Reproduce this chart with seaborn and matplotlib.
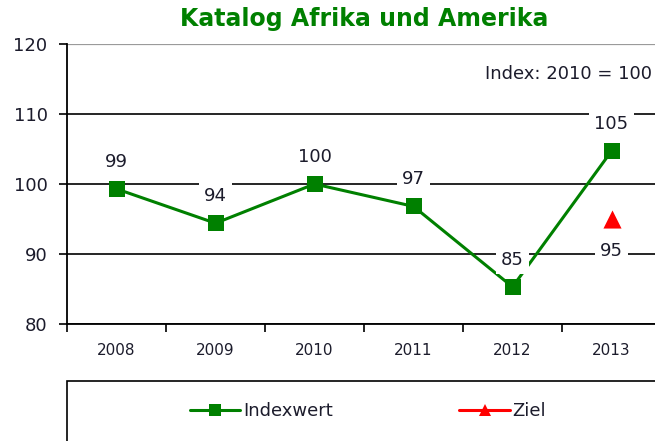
import matplotlib
matplotlib.use("Agg")
import matplotlib.pyplot as plt
import seaborn as sns
import pandas as pd
from matplotlib.lines import Line2D
from matplotlib.patches import Rectangle

# --- data -------------------------------------------------------------
years = ["2008", "2009", "2010", "2011", "2012", "2013"]
index_values = [99.3, 94.4, 100.0, 96.8, 85.3, 104.7]
target_years = ["2013"]
target_values = [95.0]
y_ticks = [80, 90, 100, 110, 120]

title = "Katalog Afrika und Amerika"
note = "Index: 2010 = 100"
series_names = ["Indexwert", "Ziel"]

GREEN = "#008000"
RED = "#ff0000"
TEXT = "#1c1c2c"

# --- figure -----------------------------------------------------------
sns.set_theme(style="white")
plt.rcParams["font.family"] = ["DejaVu Sans"]

fig = plt.figure(figsize=(6.55, 4.41), dpi=100)
ax = fig.add_axes([67 / 655, 1 - 324 / 441, 594 / 655, 280 / 441])

df = pd.DataFrame({"pos": range(len(years)), "Indexwert": index_values})
sns.lineplot(data=df, x="pos", y="Indexwert", ax=ax, color=GREEN,
             linewidth=2.2, marker="s", markersize=11.5,
             markeredgewidth=0, zorder=3)

tdf = pd.DataFrame({"pos": [years.index(y) for y in target_years],
                    "Ziel": target_values})
sns.scatterplot(data=tdf, x="pos", y="Ziel", ax=ax, marker="^", s=170,
                color=RED, linewidth=0, zorder=3)

# value labels on white boxes
box = dict(boxstyle="square,pad=0.3", fc="white", ec="none")
for i, v in enumerate(index_values):
    ax.annotate(f"{v:.0f}", (i, v), xytext=(0, 19.5),
                textcoords="offset points", ha="center", va="center",
                fontsize=13, color=TEXT, bbox=box, zorder=4)
for yr, v in zip(target_years, target_values):
    ax.annotate(f"{v:.0f}", (years.index(yr), v), xytext=(0, -23),
                textcoords="offset points", ha="center", va="center",
                fontsize=13, color=TEXT, bbox=box, zorder=4)

# axes
ax.set_xlim(-0.5, len(years) - 0.5)
ax.set_ylim(y_ticks[0], y_ticks[-1])
ax.set_yticks(y_ticks)
ax.set_yticklabels([str(t) for t in y_ticks])
ax.set_xticks([i - 0.5 for i in range(len(years) + 1)])
ax.set_xticklabels([])
ax.set_xticks(range(len(years)), minor=True)
ax.set_xticklabels(years, minor=True)
ax.set_xlabel("")
ax.set_ylabel("")

ax.tick_params(axis="x", which="major", direction="out", length=6,
               width=1.2, color="black", bottom=True)
ax.tick_params(axis="x", which="minor", length=0, pad=14,
               labelsize=11, labelcolor=TEXT, bottom=True)
ax.tick_params(axis="y", direction="out", length=6, width=1.2,
               color="black", pad=8, labelsize=13, labelcolor=TEXT, left=True)

ax.yaxis.grid(True, color="black", linewidth=1.2)
ax.set_axisbelow(True)
for tick in ax.yaxis.get_major_ticks():
    if tick.get_loc() == y_ticks[-1]:
        tick.gridline.set_color("#9a9a9a")
        tick.gridline.set_linewidth(1.6)

for side in ("top", "right"):
    ax.spines[side].set_visible(False)
for side in ("left", "bottom"):
    ax.spines[side].set_color("black")
    ax.spines[side].set_linewidth(1.3)

ax.set_title(title, color=GREEN, fontweight="bold", fontsize=17, pad=13)
ax.text(0.985, 0.893, note, transform=ax.transAxes, ha="right",
        va="center", fontsize=13, color=TEXT)

# legend in an open box along the bottom
fig.patches.append(Rectangle((67 / 655, -0.2), 1.0, 0.2 + (1 - 381 / 441),
                             transform=fig.transFigure, fill=False,
                             edgecolor="black", linewidth=1.2))
handles = [
    Line2D([], [], color=GREEN, linewidth=2.2, marker="s", markersize=8,
           markeredgewidth=0),
    Line2D([], [], color=RED, linewidth=2.2, marker="^", markersize=9,
           markeredgewidth=0),
]
fig.legend(handles, series_names, loc="center",
           bbox_to_anchor=(368 / 655, 1 - 411 / 441), ncol=2,
           frameon=False, fontsize=13, handlelength=2.8,
           handletextpad=0.15, columnspacing=7.0, labelcolor=TEXT)

fig.savefig("out.png", dpi=100)
